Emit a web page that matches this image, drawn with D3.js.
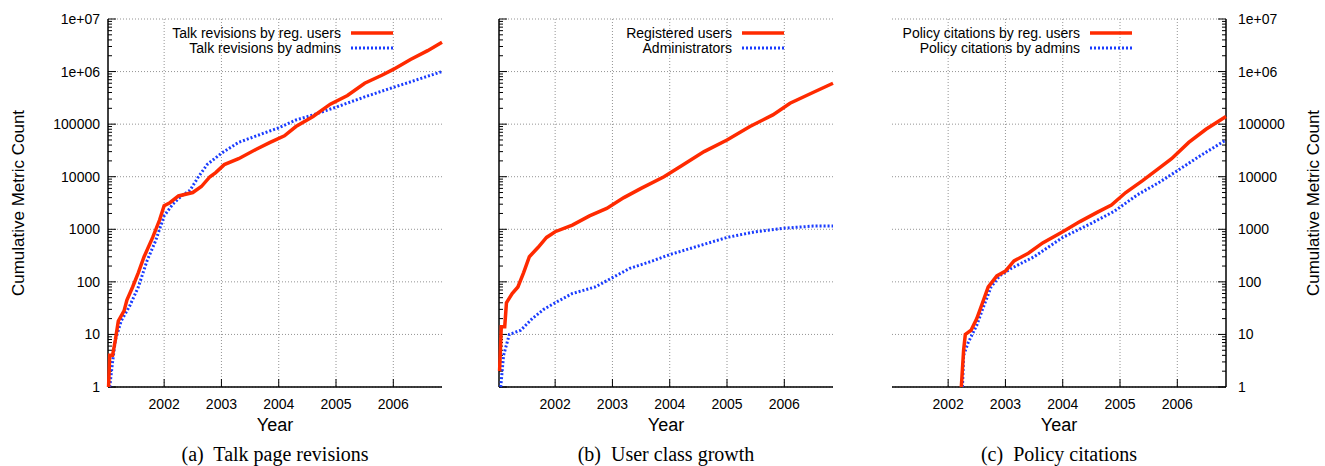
<!DOCTYPE html>
<html><head><meta charset="utf-8">
<script src="https://cdn.jsdelivr.net/npm/d3@7"></script>
<style>body{margin:0;background:#fff}</style>
</head><body>
<script>
var talkUsers = [[2001.03,1],[2001.05,4],[2001.1,4],[2001.15,8],[2001.2,18],[2001.3,28],[2001.35,45],[2001.45,80],[2001.55,150],[2001.65,300],[2001.8,700],[2001.92,1500],[2002.0,2800],[2002.1,3200],[2002.25,4300],[2002.5,5000],[2002.65,6500],[2002.8,10000],[2002.9,12000],[2003.05,17000],[2003.3,22000],[2003.6,33000],[2003.85,45000],[2004.1,60000],[2004.3,90000],[2004.6,140000],[2004.9,240000],[2005.2,350000],[2005.5,600000],[2005.8,850000],[2006.0,1100000],[2006.3,1700000],[2006.6,2500000],[2006.85,3600000]];
var talkAdmins = [[2001.05,1],[2001.1,3],[2001.15,8],[2001.25,18],[2001.4,35],[2001.55,80],[2001.7,250],[2001.85,600],[2002.0,1800],[2002.15,3000],[2002.3,4300],[2002.45,5500],[2002.6,10000],[2002.75,17000],[2003.0,28000],[2003.3,45000],[2003.7,65000],[2004.0,85000],[2004.3,120000],[2004.6,150000],[2005.0,210000],[2005.5,330000],[2006.0,500000],[2006.5,750000],[2006.85,1000000]];
var regUsers = [[2001.03,2],[2001.06,14],[2001.12,14],[2001.15,40],[2001.25,60],[2001.35,80],[2001.45,150],[2001.55,300],[2001.7,450],[2001.85,700],[2002.0,900],[2002.3,1200],[2002.6,1800],[2002.9,2500],[2003.2,4000],[2003.5,6000],[2003.9,10000],[2004.2,16000],[2004.6,30000],[2005.0,50000],[2005.4,90000],[2005.8,150000],[2006.1,250000],[2006.5,400000],[2006.85,600000]];
var admins = [[2001.05,1],[2001.1,4],[2001.2,10],[2001.4,12],[2001.6,20],[2001.8,30],[2002.0,40],[2002.3,60],[2002.7,80],[2003.0,120],[2003.3,180],[2003.7,250],[2004.0,330],[2004.5,480],[2005.0,700],[2005.5,900],[2006.0,1050],[2006.5,1150],[2006.85,1150]];
var policyUsers = [[2002.23,1],[2002.27,5],[2002.3,10],[2002.4,12],[2002.5,20],[2002.6,40],[2002.7,80],[2002.85,130],[2003.0,160],[2003.15,250],[2003.4,350],[2003.65,550],[2004.0,900],[2004.3,1400],[2004.6,2100],[2004.85,2900],[2005.1,5000],[2005.4,8500],[2005.7,15000],[2005.9,22000],[2006.2,45000],[2006.5,80000],[2006.85,140000]];
var policyAdmins = [[2002.25,1],[2002.27,4],[2002.35,7],[2002.5,15],[2002.6,30],[2002.75,80],[2002.9,130],[2003.1,180],[2003.5,300],[2004.0,700],[2004.5,1300],[2004.9,2200],[2005.3,4500],[2005.7,8000],[2006.0,13000],[2006.4,25000],[2006.85,50000]];
var years = [2002,2003,2004,2005,2006];
var yTicks = [1,10,100,1000,10000,100000,1000000,10000000];
var yLabels = ["1","10","100","1000","10000","100000","1e+06","1e+07"];

var panels = [
  {left:108, series:[talkUsers,talkAdmins], legend:["Talk revisions by reg. users","Talk revisions by admins"], yaxis:"left", caption:"(a)  Talk page revisions"},
  {left:499, series:[regUsers,admins], legend:["Registered users","Administrators"], yaxis:"none", caption:"(b)  User class growth"},
  {left:892, series:[policyUsers,policyAdmins], legend:["Policy citations by reg. users","Policy citations by admins"], yaxis:"right", caption:"(c)  Policy citations"}
];
var pw = 334, topY = 19, bottomY = 387;

var svg = d3.select("body").append("svg").attr("width",1325).attr("height",466)
  .style("font-family","'Liberation Sans',Arial,sans-serif");

panels.forEach(function(p){
  var x = d3.scaleLinear().domain([2001.02,2006.85]).range([p.left,p.left+pw]);
  var y = d3.scaleLog().domain([1,1e7]).range([bottomY,topY]);
  var g = svg.append("g");
  // grid
  g.selectAll(".gy").data(yTicks).enter().append("line")
    .attr("x1",p.left).attr("x2",p.left+pw).attr("y1",y).attr("y2",y)
    .attr("stroke","#777").attr("stroke-width",0.8).attr("stroke-dasharray","1,2");
  g.selectAll(".gx").data(years).enter().append("line")
    .attr("x1",x).attr("x2",x).attr("y1",topY).attr("y2",bottomY)
    .attr("stroke","#777").attr("stroke-width",0.8).attr("stroke-dasharray","1,2");
  // minor ticks
  var minor = [];
  for (var e=0;e<7;e++) for (var m=2;m<10;m++) minor.push(m*Math.pow(10,e));
  var ax = p.yaxis=="right" ? p.left+pw : p.left;
  var dir = p.yaxis=="right" ? -1 : 1;
  g.selectAll(".mt").data(minor).enter().append("line")
    .attr("x1",ax).attr("x2",ax+dir*4).attr("y1",y).attr("y2",y).attr("stroke","#000");
  g.selectAll(".Mt").data(yTicks).enter().append("line")
    .attr("x1",ax).attr("x2",ax+dir*8).attr("y1",y).attr("y2",y).attr("stroke","#000");
  g.selectAll(".xt").data(years).enter().append("line")
    .attr("x1",x).attr("x2",x).attr("y1",bottomY).attr("y2",bottomY-8).attr("stroke","#000");
  // axes lines
  g.append("line").attr("x1",ax).attr("x2",ax).attr("y1",topY).attr("y2",bottomY).attr("stroke","#000").attr("stroke-width",1.5);
  g.append("line").attr("x1",p.left).attr("x2",p.left+pw).attr("y1",bottomY).attr("y2",bottomY).attr("stroke","#000").attr("stroke-width",1.5);
  // x labels
  g.selectAll(".xl").data(years).enter().append("text")
    .attr("x",x).attr("y",bottomY+22).attr("text-anchor","middle").attr("font-size",14).text(String);
  g.append("text").attr("x",p.left+pw/2).attr("y",bottomY+44).attr("text-anchor","middle").attr("font-size",18).text("Year");
  if (p.yaxis!="none") {
    var right = p.yaxis=="right";
    g.selectAll(".yl").data(yTicks).enter().append("text")
      .attr("x", right ? ax+12 : ax-8).attr("y",function(d){return y(d)+5;})
      .attr("text-anchor", right ? "start" : "end").attr("font-size",14)
      .text(function(d,i){return yLabels[i];});
    var tx = right ? 1319 : 24;
    g.append("text").attr("transform","translate("+tx+","+(topY+bottomY)/2+") rotate(-90)")
      .attr("text-anchor","middle").attr("font-size",17).text("Cumulative Metric Count");
  }
  // lines
  var line = d3.line().x(function(d){return x(d[0]);}).y(function(d){return y(d[1]);});
  g.append("path").datum(p.series[1]).attr("d",line).attr("fill","none")
    .attr("stroke","#1a3cff").attr("stroke-width",3).attr("stroke-dasharray","2,2");
  g.append("path").datum(p.series[0]).attr("d",line).attr("fill","none")
    .attr("stroke","#ff2a00").attr("stroke-width",3.5);
  // legend
  var lx = p.left + (p.yaxis=="right" ? 188 : 233);
  [0,1].forEach(function(i){
    var ly = 33 + i*15;
    g.append("text").attr("x",lx).attr("y",ly+5).attr("text-anchor","end").attr("font-size",14).text(p.legend[i]);
    g.append("line").attr("x1",lx+10).attr("x2",lx+52).attr("y1",ly).attr("y2",ly)
      .attr("stroke", i==0 ? "#ff2a00" : "#1a3cff").attr("stroke-width", i==0 ? 3.5 : 3)
      .attr("stroke-dasharray", i==0 ? null : "2,2");
  });
  svg.append("text").attr("x",p.left+pw/2).attr("y",461).attr("text-anchor","middle")
    .style("white-space","pre")
    .attr("font-family","'Liberation Serif','Times New Roman',serif").attr("font-size",20).text(p.caption);
});
</script>
</body></html>
